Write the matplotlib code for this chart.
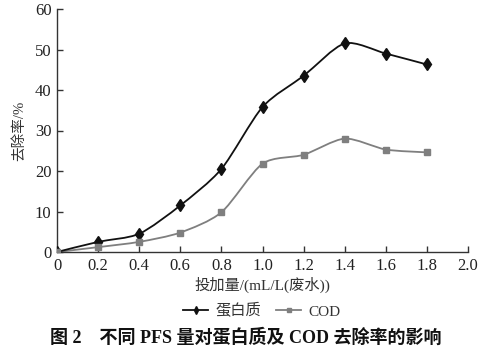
import matplotlib
matplotlib.use("Agg")
import matplotlib.pyplot as plt
import numpy as np
from matplotlib.path import Path
from matplotlib.patches import PathPatch
from matplotlib.lines import Line2D

x = [0, 0.2, 0.4, 0.6, 0.8, 1.0, 1.2, 1.4, 1.6, 1.8]
protein = [0, 2.5, 4.5, 11.5, 20.5, 35.8, 43.5, 51.5, 49.0, 46.3]
cod = [0, 1.2, 2.5, 4.8, 9.8, 21.8, 24.0, 28.0, 25.3, 24.6]
xticks = [0, 0.2, 0.4, 0.6, 0.8, 1.0, 1.2, 1.4, 1.6, 1.8, 2.0]
xticklabels = ["0", "0.2", "0.4", "0.6", "0.8", "1.0", "1.2", "1.4", "1.6", "1.8", "2.0"]
yticks = [0, 10, 20, 30, 40, 50, 60]

serif = ["Liberation Serif", "DejaVu Serif"]
mixed = ["Liberation Serif", "Noto Sans CJK SC"]

fig = plt.figure(figsize=(4.97, 3.58), dpi=100)
ax = fig.add_axes([57/497, 1-252/358, (468-57)/497, (252-9)/358])


def smooth_path(xs, ys, t=0.13):
    xs = np.asarray(xs, float); ys = np.asarray(ys, float)
    n = len(xs)
    verts = [(xs[0], ys[0])]
    codes = [Path.MOVETO]
    for i in range(n - 1):
        p0 = np.array([xs[max(i-1, 0)], ys[max(i-1, 0)]])
        p1 = np.array([xs[i], ys[i]])
        p2 = np.array([xs[i+1], ys[i+1]])
        p3 = np.array([xs[min(i+2, n-1)], ys[min(i+2, n-1)]])
        c1 = p1 + (p2 - p0) * t
        c2 = p2 - (p3 - p1) * t
        verts += [tuple(c1), tuple(c2), tuple(p2)]
        codes += [Path.CURVE4] * 3
    return Path(verts, codes)

blk = "#111111"
gry = "#7f7f7f"
ax.add_patch(PathPatch(smooth_path(x, protein), fill=False, edgecolor=blk, lw=1.3, zorder=3))
ax.add_patch(PathPatch(smooth_path(x, cod), fill=False, edgecolor=gry, lw=1.3, zorder=2))
ax.plot(x, protein, linestyle="none", marker="d", color=blk, ms=6, zorder=4)
ax.plot(x, cod, linestyle="none", marker="s", color=gry, ms=4.5, zorder=4)

ax.set_xlim(0, 2.0)
ax.set_ylim(0, 60)
ax.set_xticks(xticks)
ax.set_xticklabels(xticklabels)
ax.set_yticks(yticks)
for s in ["top", "right"]:
    ax.spines[s].set_visible(False)
for s in ["left", "bottom"]:
    ax.spines[s].set_color("#333333")
    ax.spines[s].set_linewidth(1.0)
ax.tick_params(direction="in", length=4, width=1, colors="#333333", labelsize=12, pad=4)
for lab in ax.get_xticklabels() + ax.get_yticklabels():
    lab.set_family(serif)
    lab.set_color("#222222")

ax.set_ylabel("去除率/%", family=mixed, fontsize=10.5, color="#333333", labelpad=6)
fig.text(262/497, 1-285/358, "投加量/(mL/L(废水))", family=mixed, fontsize=11,
         ha="center", va="center", color="#333333")

h1 = Line2D([], [], color=blk, marker="d", ms=4, lw=1.3)
h2 = Line2D([], [], color=gry, marker="s", ms=3.5, lw=1.3)
leg = fig.legend([h1, h2], ["蛋白质", "COD"], loc="center", bbox_to_anchor=(262/497, 1-311/358),
                 ncol=2, frameon=False, prop={"family": mixed, "size": 11},
                 handlelength=1.6, handletextpad=0.5, columnspacing=1.0)
for t in leg.get_texts():
    t.set_color("#333333")

fig.text(246/497, 1-338/358, "图 2    不同 PFS 量对蛋白质及 COD 去除率的影响", family=mixed,
         fontsize=13, fontweight="bold", ha="center", va="center", color="#111111")

fig.savefig("out.png", dpi=100)
